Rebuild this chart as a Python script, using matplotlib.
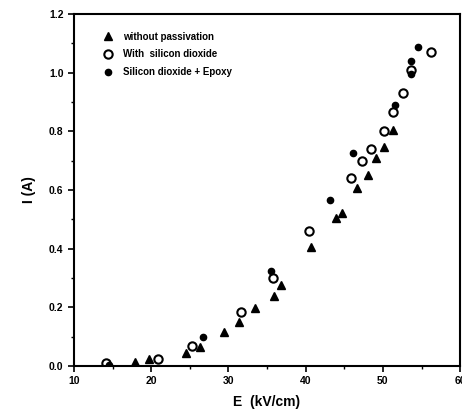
import matplotlib
matplotlib.use("Agg")
import matplotlib.pyplot as plt
from matplotlib.ticker import MultipleLocator

plt.rcParams['font.family'] = ['Liberation Sans', 'DejaVu Sans']

# without passivation (triangles)
E_tri = [17.9, 19.7, 24.5, 26.3, 29.4, 31.4, 33.4, 35.9, 36.8, 40.7, 43.9, 44.7,
         46.7, 48.1, 49.1, 50.2, 51.3]
I_tri = [0.014, 0.024, 0.044, 0.065, 0.116, 0.15, 0.198, 0.24, 0.276, 0.405, 0.505, 0.52,
         0.607, 0.65, 0.71, 0.747, 0.805]

# with silicon dioxide (open circles)
E_open = [14.1, 20.9, 25.3, 31.6, 35.8, 40.4, 45.9, 47.3, 48.5, 50.2, 51.3, 52.6, 53.7, 56.2]
I_open = [0.01, 0.024, 0.068, 0.184, 0.30, 0.46, 0.64, 0.70, 0.74, 0.80, 0.866, 0.93, 1.01, 1.07]

# silicon dioxide + epoxy (filled circles)
E_fill = [14.6, 26.7, 35.5, 43.2, 46.1, 51.6, 53.7, 53.7, 54.6]
I_fill = [0.005, 0.10, 0.325, 0.566, 0.726, 0.89, 0.995, 1.04, 1.088]

labels = ["without passivation", "With  silicon dioxide", "Silicon dioxide + Epoxy"]

fig = plt.figure(figsize=(4.62, 4.19), dpi=100)
ax = fig.add_axes([0.160, 0.1265, 0.836, 0.840])

ax.plot(E_tri, I_tri, linestyle='none', marker='^', markersize=5.5, color='black', label=labels[0])
ax.plot(E_open, I_open, linestyle='none', marker='o', markersize=6, markerfacecolor='white',
        markeredgecolor='black', markeredgewidth=1.5, label=labels[1])
ax.plot(E_fill, I_fill, linestyle='none', marker='o', markersize=4.5, color='black', label=labels[2])

ax.set_xlim(10, 60)
ax.set_ylim(0, 1.2)
ax.xaxis.set_major_locator(MultipleLocator(10))
ax.xaxis.set_minor_locator(MultipleLocator(5))
ax.yaxis.set_major_locator(MultipleLocator(0.2))
ax.yaxis.set_minor_locator(MultipleLocator(0.1))
ax.yaxis.set_major_formatter(matplotlib.ticker.FormatStrFormatter('%.1f'))
ax.tick_params(axis='both', which='major', direction='out', length=4, width=1.2,
               labelsize=7.5, top=False, right=False)
ax.tick_params(axis='both', which='minor', direction='out', length=2.5, width=1,
               top=False, right=False)
for lab in ax.get_xticklabels() + ax.get_yticklabels():
    lab.set_fontweight('bold')
for s in ax.spines.values():
    s.set_linewidth(1.5)

ax.set_xlabel("E  (kV/cm)", fontsize=10, fontweight='bold', labelpad=6)
ax.set_ylabel("I (A)", fontsize=10, fontweight='bold', labelpad=9)

leg = ax.legend(loc='upper left', bbox_to_anchor=(0.05, 0.975), frameon=False,
                fontsize=7, handletextpad=1.0, labelspacing=0.8, handlelength=1.2)
for t in leg.get_texts():
    t.set_fontweight('bold')

fig.savefig("out.png", dpi=100)
